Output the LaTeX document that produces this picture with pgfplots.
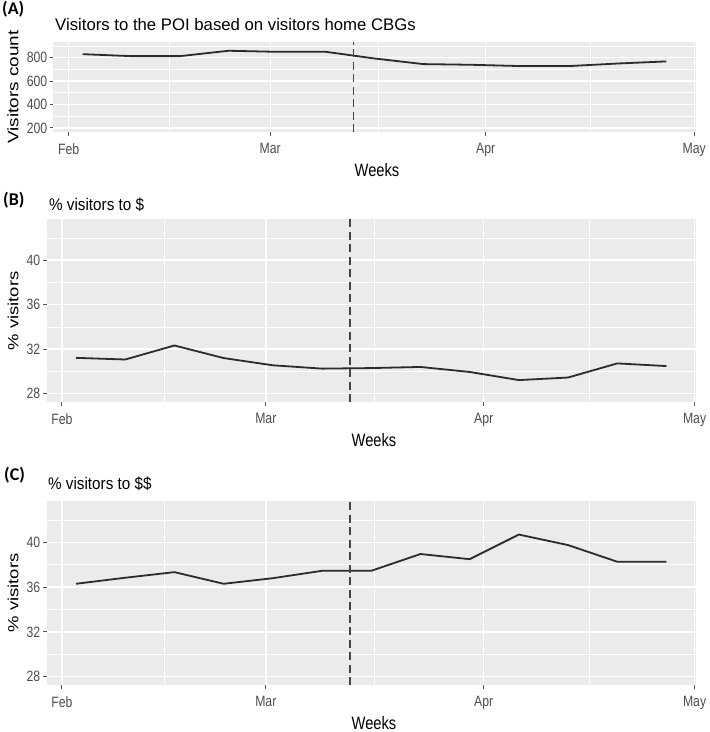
\documentclass[border=0pt]{standalone}
\usepackage{pgfplots}
\pgfplotsset{compat=1.18}
\usepackage{fontspec}
\setmainfont{Liberation Sans}
\newfontfamily\cond{Liberation Sans}[FakeStretch=0.82]
\newfontfamily\lab{Carlito}
\definecolor{bgc}{HTML}{EBEBEB}
\definecolor{linec}{HTML}{2B2B2B}
\definecolor{tickc}{HTML}{4D4D4D}
\definecolor{dashc}{HTML}{444444}
\pgfplotstableread{
day v
2 831
9 814
16 814
23 860
30 851
37 851
44 794
51 746
58 740
65 729
72 729
79 751
86 769
}\dataA
\pgfplotstableread{
day v
2 31.22
9 31.07
16 32.33
23 31.2
30 30.55
37 30.25
44 30.3
51 30.4
58 29.95
65 29.22
72 29.45
79 30.72
86 30.48
}\dataB
\pgfplotstableread{
day v
2 36.3
9 36.84
16 37.34
23 36.3
30 36.8
37 37.46
44 37.46
51 38.96
58 38.5
65 40.7
72 39.76
79 38.27
86 38.27
}\dataC
\pgfplotsset{
 panel/.style={
  scale only axis,
  axis background/.style={fill=bgc},
  axis line style={draw=none},
  grid=both,
  major grid style={white, line width=1.4bp},
  minor grid style={white, line width=0.7bp},
  xmin=-2.2, xmax=90.2,
  xtick={0,29,60,90}, xticklabels={Feb,Mar,Apr,May},
  minor xtick={14.5,44.5,75},
  tick align=outside, major tick length=3.5bp, minor tick length=0bp,
  tick style={draw=linec!80, line width=1bp},
  xtick pos=left, ytick pos=left,
  /pgf/number format/assume math mode=true,
  ticklabel style={font=\cond\fontsize{15}{16}\selectfont, text=tickc},
  yticklabel style={anchor=east, inner sep=0pt, xshift=-2.5bp},
  xticklabel style={anchor=north, inner sep=0pt, yshift=-8bp},
  clip=false,
 },
 serie/.style={line width=1.8bp, color=linec, mark=none},
 vline/.style={line width=1.6bp, color=dashc, dash pattern=on 8bp off 4.5bp},
}
\begin{document}
\begin{tikzpicture}[x=1bp,y=1bp]
\useasboundingbox (0bp,0bp) rectangle (710bp,-732bp);
% Panel A
\begin{axis}[panel, at={(53.4bp,-42bp)}, anchor=north west, width=642.2bp, height=90bp,
  ymin=165, ymax=935, ytick={200,400,600,800}, minor ytick={300,500,700,900}]
\addplot[serie] table[x=day,y=v] {\dataA};
\addplot[vline] coordinates {(41,165) (41,935)};
\end{axis}
% Panel B
\begin{axis}[panel, at={(46.5bp,-219bp)}, anchor=north west, width=649.5bp, height=183bp,
  ymin=27.25, ymax=43.7, ytick={28,32,36,40}, minor ytick={30,34,38,42}]
\addplot[serie] table[x=day,y=v] {\dataB};
\addplot[vline] coordinates {(41,27.25) (41,43.7)};
\end{axis}
% Panel C
\begin{axis}[panel, at={(46.5bp,-501bp)}, anchor=north west, width=649.5bp, height=184bp,
  ymin=27.25, ymax=43.7, ytick={28,32,36,40}, minor ytick={30,34,38,42}]
\addplot[serie] table[x=day,y=v] {\dataC};
\addplot[vline] coordinates {(41,27.25) (41,43.7)};
\end{axis}
% Panel labels
\node[anchor=base west, inner sep=0pt, font=\lab\bfseries\fontsize{18}{20}\selectfont] at (2bp,-14bp) {(A)};
\node[anchor=base west, inner sep=0pt, font=\lab\bfseries\fontsize{18}{20}\selectfont] at (3bp,-205bp) {(B)};
\node[anchor=base west, inner sep=0pt, font=\lab\bfseries\fontsize{18}{20}\selectfont] at (4bp,-480bp) {(C)};
% Titles
\node[anchor=base west, inner sep=0pt, font=\fontsize{16.8}{18}\selectfont] at (55bp,-30bp) {Visitors to the POI based on visitors home CBGs};
\node[anchor=base west, inner sep=0pt, font=\fontsize{17}{18}\selectfont] at (49bp,-210bp) {\scalebox{0.9}[1]{\% visitors to \$}};
\node[anchor=base west, inner sep=0pt, font=\fontsize{17}{18}\selectfont] at (48bp,-489bp) {\scalebox{0.9}[1]{\% visitors to \$\$}};
% x labels
\node[anchor=base, inner sep=0pt, font=\cond\fontsize{18}{20}\selectfont] at (377bp,-176.5bp) {Weeks};
\node[anchor=base, inner sep=0pt, font=\cond\fontsize{18}{20}\selectfont] at (374bp,-446bp) {Weeks};
\node[anchor=base, inner sep=0pt, font=\cond\fontsize{18}{20}\selectfont] at (374bp,-729bp) {Weeks};
% y labels
\node[rotate=90, inner sep=0pt, font=\fontsize{19}{20}\selectfont] at (13bp,-87bp) {\scalebox{1}[0.8]{Visitors count}};
\node[rotate=90, inner sep=0pt, font=\fontsize{18.5}{20}\selectfont] at (13bp,-311bp) {\scalebox{1}[0.8]{\% visitors}};
\node[rotate=90, inner sep=0pt, font=\fontsize{18.5}{20}\selectfont] at (13bp,-593bp) {\scalebox{1}[0.8]{\% visitors}};
\end{tikzpicture}
\end{document}
